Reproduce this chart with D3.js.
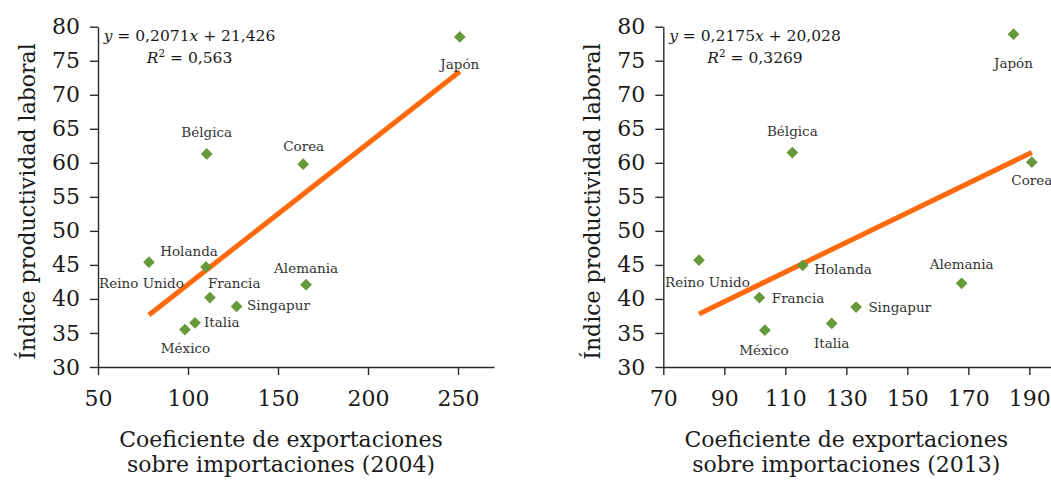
<!DOCTYPE html>
<html>
<head>
<meta charset="utf-8">
<script src="https://cdn.jsdelivr.net/npm/d3@7"></script>
<style>
  html, body { margin: 0; padding: 0; background: #fff; }
  svg { display: block; }
</style>
</head>
<body>
<svg id="chart" width="1051" height="484"></svg>
<script>
// ---------------- DATA ----------------
const countries = ["Japón", "Bélgica", "Corea", "Holanda", "Reino Unido", "Francia", "Alemania", "Singapur", "Italia", "México"];

const x2004 = [251, 110.4, 164, 110, 78.3, 112.2, 165.6, 127, 103.9, 98.3];
const y2004 = [78.5, 61.3, 59.8, 44.7, 45.4, 40.2, 42.1, 38.9, 36.5, 35.5];

const x2013 = [184.8, 112.3, 190.8, 115.7, 81.7, 101.5, 167.8, 133.2, 125.2, 103.3];
const y2013 = [78.9, 61.5, 60.1, 44.95, 45.7, 40.2, 42.3, 38.8, 36.4, 35.4];

const slopes = [0.2071, 0.2175];
const intercepts = [21.426, 20.028];
const eqLabels = ["y = 0,2071x + 21,426", "y = 0,2175x + 20,028"];
const r2Labels = ["0,563", "0,3269"];

const xTicks2004 = [50, 100, 150, 200, 250];
const xTicks2013 = [70, 90, 110, 130, 150, 170, 190];
const yTicks = [30, 35, 40, 45, 50, 55, 60, 65, 70, 75, 80];

const yTitle = "Índice productividad laboral";
const xTitles = [
  ["Coeficiente de exportaciones", "sobre importaciones (2004)"],
  ["Coeficiente de exportaciones", "sobre importaciones (2013)"]
];

// ---------------- LAYOUT (label placement, not data) ----------------
const labelLayout2004 = {
  "Japón":       ["middle", 0, 27],
  "Bélgica":     ["middle", 0, -22],
  "Corea":       ["middle", 0.5, -18],
  "Holanda":     ["middle", -17, -16],
  "Reino Unido": ["middle", -7.5, 21],
  "Francia":     ["start", -2, -14],
  "Alemania":    ["middle", 0, -16],
  "Singapur":    ["start", 10.5, -1],
  "Italia":      ["start", 9, 0],
  "México":      ["middle", 0.5, 19]
};
const labelLayout2013 = {
  "Japón":       ["middle", 0, 29.5],
  "Bélgica":     ["middle", 0, -21.5],
  "Corea":       ["middle", 0, 18.5],
  "Holanda":     ["start", 11.5, 4.3],
  "Reino Unido": ["middle", 8.5, 22],
  "Francia":     ["start", 12.4, 1],
  "Singapur":    ["start", 12.3, 0],
  "Alemania":    ["middle", 0, -19.3],
  "Italia":      ["middle", 0, 19.4],
  "México":      ["middle", -1, 20]
};

const FONT = "'DejaVu Serif', serif";
const GREEN = "#67993a";
const ORANGE = "#ff6a0e";
const AXIS = "#2a2a2a";

const svg = d3.select("#chart");

const panels = [
  { xs: x2004, ys: y2004, xDomain: [50, 270], xRange: [98, 494], xTicks: xTicks2004, layout: labelLayout2004, eqX: 189.5 },
  { xs: x2013, ys: y2013, xDomain: [70, 197], xRange: [663.3, 1050.7], xTicks: xTicks2013, layout: labelLayout2013, eqX: 755 }
];

const yScale = d3.scaleLinear().domain([30, 80]).range([367, 26.7]);

panels.forEach((p, i) => {
  const xScale = d3.scaleLinear().domain(p.xDomain).range(p.xRange);
  const g = svg.append("g");
  const x0 = p.xRange[0];

  // Axes
  const yAxis = d3.axisLeft(yScale).tickValues(yTicks).tickSize(8).tickSizeOuter(0).tickPadding(10).tickFormat(d3.format("d"));
  const xAxis = d3.axisBottom(xScale).tickValues(p.xTicks).tickSize(8).tickSizeOuter(0).tickPadding(15).tickFormat(d3.format("d"));

  const ya = g.append("g").attr("transform", `translate(${x0},0)`).call(yAxis);
  const xa = g.append("g").attr("transform", `translate(0,${yScale(30)})`).call(xAxis);

  [ya, xa].forEach(a => {
    a.select(".domain").attr("stroke", AXIS).attr("stroke-width", 1.4);
    a.selectAll(".tick line").attr("stroke", AXIS).attr("stroke-width", 1.4);
    a.selectAll(".tick text").attr("fill", "#1a1a1a").style("font-family", FONT).style("font-size", "22px");
  });

  // Trend line from min to max x
  const xMin = d3.min(p.xs), xMax = d3.max(p.xs);
  const lineData = [xMin, xMax].map(x => [x, slopes[i] * x + intercepts[i]]);
  g.append("path")
    .datum(lineData)
    .attr("d", d3.line().x(d => xScale(d[0])).y(d => yScale(d[1])))
    .attr("stroke", ORANGE)
    .attr("stroke-width", 5)
    .attr("fill", "none");

  // Points
  const pts = countries.map((c, k) => ({ c, x: p.xs[k], y: p.ys[k] }));
  g.selectAll("path.pt").data(pts).enter().append("path")
    .attr("class", "pt")
    .attr("d", d3.symbol().type(d3.symbolDiamond2).size(88))
    .attr("transform", d => `translate(${xScale(d.x)},${yScale(d.y)})`)
    .attr("fill", GREEN);

  // Labels
  g.selectAll("text.lbl").data(pts).enter().append("text")
    .attr("class", "lbl")
    .attr("x", d => xScale(d.x) + p.layout[d.c][1])
    .attr("y", d => yScale(d.y) + p.layout[d.c][2])
    .attr("dy", "0.35em")
    .attr("text-anchor", d => p.layout[d.c][0])
    .style("font-family", FONT)
    .style("font-size", "13.5px")
    .attr("fill", "#333")
    .text(d => d.c);

  // Equation
  const eq = g.append("text")
    .attr("x", p.eqX).attr("y", 41)
    .attr("text-anchor", "middle")
    .style("font-family", FONT).style("font-size", "15.5px").attr("fill", "#1a1a1a");
  const parts = eqLabels[i].split(/(x|y)/).filter(s => s.length);
  parts.forEach(s => {
    const t = eq.append("tspan").text(s);
    if (s === "x" || s === "y") t.style("font-style", "italic");
  });
  const r2 = g.append("text")
    .attr("x", p.eqX).attr("y", 63)
    .attr("text-anchor", "middle")
    .style("font-family", FONT).style("font-size", "15.5px").attr("fill", "#1a1a1a");
  r2.append("tspan").text("R").style("font-style", "italic");
  r2.append("tspan").text("2").attr("dy", -6).style("font-size", "10.5px");
  r2.append("tspan").text(" = " + r2Labels[i]).attr("dy", 6);

  // Y title
  g.append("text")
    .attr("transform", `translate(${x0 - 63},201.5) rotate(-90)`)
    .attr("text-anchor", "middle")
    .style("font-family", FONT).style("font-size", "22px").attr("fill", "#1a1a1a")
    .text(yTitle);

  // X title
  xTitles[i].forEach((line, j) => {
    g.append("text")
      .attr("x", x0 + 183)
      .attr("y", 447 + j * 25)
      .attr("text-anchor", "middle")
      .style("font-family", FONT).style("font-size", "22px").attr("fill", "#1a1a1a")
      .text(line);
  });
});
</script>
</body>
</html>
